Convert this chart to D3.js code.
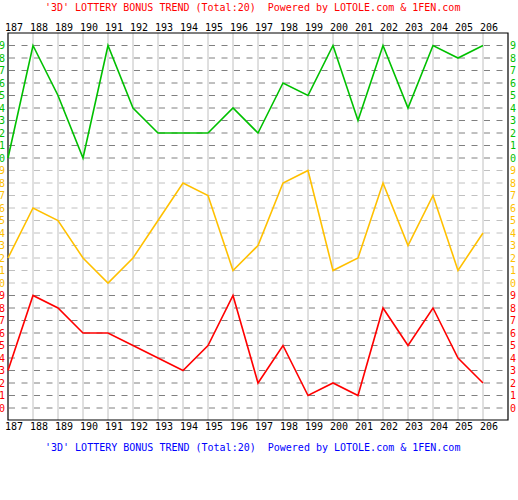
<!DOCTYPE html>
<html>
<head>
<meta charset="utf-8">
<script src="https://cdn.jsdelivr.net/npm/d3@7"></script>
<style>
  body { margin: 0; background: #fff; }
  svg { display: block; }
  text { font-family: "DejaVu Sans Mono", monospace; font-size: 10px; }
</style>
</head>
<body>
<div id="chart"></div>
<script>
// periods 187..206 and the three bonus digits drawn per band
const periods = [187,188,189,190,191,192,193,194,195,196,197,198,199,200,201,202,203,204,205,206];
const digitGreen  = [0,9,5,0,9,4,2,2,2,4,2,6,5,9,3,9,4,9,8,9];
const digitYellow = [2,6,5,2,0,2,5,8,7,1,3,8,9,1,2,8,3,7,1,4];
const digitRed    = [3,9,8,6,6,5,4,3,5,9,2,5,1,2,1,8,5,8,4,2];
const digitTicks  = [0,1,2,3,4,5,6,7,8,9];
const titleText = "'3D' LOTTERY BONUS TREND (Total:20)  Powered by LOTOLE.com & 1FEN.com";

const W = 518, H = 500;
const margin = { top: 33, left: 8, right: 10 };
const rowH = 12.5, bandH = 125;
const plotRight = 508, plotBottom = 420;

const svg = d3.select("#chart").append("svg")
    .attr("width", W)
    .attr("height", H);

const x = d3.scaleLinear()
    .domain([periods[0], periods[periods.length - 1] + 1])
    .range([margin.left, plotRight]);

const bands = [
    { values: digitGreen,  color: "#00c000", grid: "#808080" },
    { values: digitYellow, color: "#ffc000", grid: "#c0c0c0" },
    { values: digitRed,    color: "#ff0000", grid: "#808080" }
];

bands.forEach((b, i) => {
    let top = margin.top + rowH + bandH * i;
    b.y = d3.scaleLinear().domain([9, 0]).range([top, top + rowH * 9]);
});

// vertical grid
svg.append("g").selectAll("line")
    .data(periods.slice(1))
    .join("line")
    .attr("x1", d => x(d)).attr("x2", d => x(d))
    .attr("y1", margin.top).attr("y2", plotBottom)
    .attr("stroke", "#c0c0c0")
    .attr("stroke-width", 1);

// horizontal dashed grid per band
bands.forEach(b => {
    svg.append("g").selectAll("line")
        .data(digitTicks)
        .join("line")
        .attr("x1", margin.left + 1).attr("x2", plotRight)
        .attr("y1", d => b.y(d)).attr("y2", d => b.y(d))
        .attr("stroke", b.grid)
        .attr("stroke-width", 1)
        .attr("stroke-dasharray", "6,6.5");
});

// frame
svg.append("path")
    .attr("d", `M${margin.left},${margin.top}H${plotRight}V${plotBottom}H${margin.left}Z`)
    .attr("fill", "none")
    .attr("stroke", "#000")
    .attr("stroke-width", 1.2);

// trend lines
bands.forEach(b => {
    let line = d3.line()
        .x((d, i) => x(periods[i]))
        .y(d => b.y(d));
    svg.append("path")
        .datum(b.values)
        .attr("d", line)
        .attr("fill", "none")
        .attr("stroke", b.color)
        .attr("stroke-width", 1.6)
        .attr("stroke-linejoin", "miter");
});

// digit labels left and right
bands.forEach(b => {
    [-1, 510].forEach(lx => {
        svg.append("g").selectAll("text")
            .data(digitTicks)
            .join("text")
            .attr("x", lx)
            .attr("y", d => b.y(d))
            .attr("dy", "0.35em")
            .attr("fill", b.color)
            .text(d => d);
    });
});

// period labels top and bottom
[27, 426].forEach(ly => {
    svg.append("g").selectAll("text")
        .data(periods)
        .join("text")
        .attr("x", d => x(d) - 3)
        .attr("y", ly)
        .attr("dy", "0.35em")
        .attr("fill", "#000")
        .text(d => d);
});

// titles
[[7, "#ff0000"], [447, "#0000ff"]].forEach(([ty, col]) => {
    svg.append("text")
        .attr("x", 45)
        .attr("y", ty)
        .attr("dy", "0.35em")
        .attr("fill", col)
        .style("white-space", "pre")
        .text(titleText);
});
</script>
</body>
</html>
